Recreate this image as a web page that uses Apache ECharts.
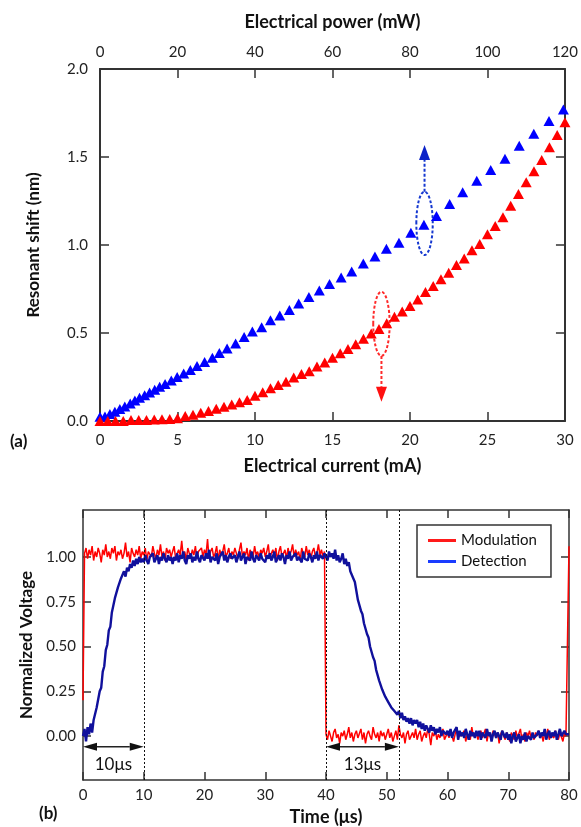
<!DOCTYPE html>
<html>
<head>
<meta charset="utf-8">
<script src="https://cdn.jsdelivr.net/npm/echarts@6/dist/echarts.min.js"></script>
<style>
html, body { margin: 0; padding: 0; background: #fff; }
#chart { width: 581px; height: 827px; }
</style>
</head>
<body>
<div id="chart"></div>
<script>
// ---- (a) resonant shift versus heater current ----
const blueCurrent = [0, 0.32, 0.64, 0.96, 1.28, 1.6, 1.95, 2.25, 2.55, 2.88,
  3.2, 3.53, 3.85, 4.2, 4.6, 4.98, 5.4, 5.83, 6.26, 6.75,
  7.25, 7.7, 8.2, 8.75, 9.3, 9.83, 10.43, 11.0, 11.6, 12.22,
  12.82, 13.48, 14.15, 14.81, 15.56, 16.24, 16.99, 17.74, 18.48, 19.29,
  20.06, 20.9, 21.71, 22.56, 23.4, 24.31, 25.21, 26.13, 27.05, 27.99,
  28.97, 29.9];
const blueShift = [0.024, 0.026, 0.04, 0.053, 0.068, 0.083, 0.1, 0.117, 0.132, 0.147,
  0.162, 0.177, 0.194, 0.21, 0.23, 0.25, 0.27, 0.29, 0.313, 0.335,
  0.36, 0.386, 0.412, 0.44, 0.477, 0.508, 0.532, 0.572, 0.6, 0.63,
  0.668, 0.705, 0.742, 0.778, 0.815, 0.85, 0.895, 0.934, 0.978, 1.013,
  1.07, 1.115, 1.165, 1.233, 1.3, 1.365, 1.426, 1.49, 1.564, 1.632,
  1.705, 1.77];
const redCurrent = [0, 0.5, 1, 1.5, 2, 2.5, 3, 3.5, 4, 4.5,
  5, 5.5, 6, 6.5, 7, 7.5, 8, 8.5, 9, 9.5,
  10, 10.5, 11, 11.5, 12, 12.5, 13, 13.5, 14, 14.5,
  15, 15.5, 16, 16.5, 17, 17.5, 18, 18.5, 19, 19.5,
  20, 20.5, 21, 21.5, 22, 22.5, 23, 23.5, 24, 24.5,
  25, 25.5, 26, 26.5, 27, 27.5, 28, 28.5, 29, 29.5, 30];
const redShift = [0, 0, 0, 0, 0.005, 0.005, 0.006, 0.008, 0.01, 0.012,
  0.016, 0.028, 0.036, 0.047, 0.057, 0.069, 0.081, 0.094, 0.106, 0.12,
  0.144, 0.163, 0.186, 0.205, 0.223, 0.247, 0.267, 0.283, 0.309, 0.333,
  0.36, 0.385, 0.409, 0.436, 0.468, 0.497, 0.523, 0.555, 0.592, 0.622,
  0.653, 0.69, 0.733, 0.767, 0.805, 0.843, 0.886, 0.924, 0.97, 1.006,
  1.061, 1.108, 1.157, 1.223, 1.29, 1.356, 1.419, 1.483, 1.555, 1.625, 1.697];

// dashed loops that tie each curve to its axis (centre, radii, arrow tip)
const loops = [
  { cx: 20.94, cy: 1.123, rx: 0.53, ry: 0.18, tip: 1.568, color: '#1538d0', head: '#0b22c8' },
  { cx: 18.16, cy: 0.552, rx: 0.53, ry: 0.182, tip: 0.11, color: '#ff2a2a', head: '#ff1010' }
];

// ---- (b) modulation and detector traces, one sample every 0.25 µs ----
const sampleStepUs = 0.25;
const modulation = [
  0.20,1.02,1.05,0.99,1.04,1.01,1.06,0.98,1.03,1.00,1.05,1.02,0.97,1.04,1.01,1.07,1.00,1.03,0.99,1.05,
  1.02,1.06,0.98,1.03,1.01,1.04,0.99,1.02,1.08,1.00,1.03,0.97,1.05,1.02,1.00,1.04,1.01,1.06,0.99,1.03,
  1.01,1.05,0.98,1.03,1.04,1.00,1.06,1.02,0.99,1.04,1.01,1.07,1.00,1.03,0.98,1.05,1.02,1.04,1.00,1.03,
  1.06,0.99,1.02,1.04,1.01,1.09,1.00,1.03,0.98,1.05,1.02,1.00,1.04,1.01,1.06,0.99,1.03,1.02,1.05,1.00,
  1.04,1.01,1.10,0.99,1.03,1.05,1.00,1.02,1.06,0.98,1.04,1.01,1.03,1.07,1.00,1.02,1.05,0.99,1.03,1.01,
  1.05,1.02,0.99,1.04,1.08,1.00,1.03,1.01,1.05,0.98,1.04,1.02,1.00,1.06,1.01,1.03,0.99,1.04,1.02,1.05,
  1.00,1.03,1.07,0.99,1.02,1.04,1.01,1.05,0.98,1.03,1.06,1.00,1.02,1.04,0.99,1.05,1.01,1.03,1.07,1.00,
  1.04,1.01,1.03,0.98,1.05,1.02,1.00,1.06,1.01,1.04,0.99,1.03,1.05,1.00,1.02,1.07,1.01,1.04,1.00,1.03,
  0.01,-0.02,0.03,0.00,-0.03,0.02,0.04,-0.01,0.01,-0.04,0.02,0.00,0.03,-0.02,0.01,0.05,-0.01,0.02,-0.03,0.01,
  0.03,-0.01,0.00,0.04,-0.02,0.02,-0.04,0.01,0.03,0.00,-0.02,0.05,0.01,-0.01,0.02,-0.03,0.03,0.00,0.02,-0.02,
  0.01,0.04,-0.01,0.02,-0.03,0.00,0.03,-0.02,0.06,0.01,-0.01,0.02,-0.04,0.01,0.03,-0.02,0.00,0.02,-0.01,0.04,
  -0.02,0.01,0.03,-0.03,0.00,0.02,-0.01,0.04,0.01,-0.05,0.02,0.00,0.03,-0.02,0.01,-0.01,0.02,0.04,-0.02,0.00,
  0.02,-0.01,0.03,0.00,-0.03,0.01,0.04,-0.02,0.02,0.00,-0.01,0.03,-0.03,0.01,0.02,-0.02,0.05,0.00,-0.01,0.02,
  -0.02,0.01,0.03,-0.01,0.00,0.04,-0.03,0.02,0.00,-0.02,0.03,0.01,-0.01,0.02,-0.04,0.01,0.03,0.00,-0.02,0.02,
  0.00,-0.03,0.02,0.01,-0.02,0.03,-0.01,0.00,0.04,-0.02,0.01,-0.03,0.02,0.00,0.03,-0.01,0.01,-0.02,0.02,0.00,
  0.03,-0.01,0.01,-0.03,0.02,0.00,0.04,-0.02,0.01,0.02,-0.01,0.03,0.00,-0.02,0.02,0.01,-0.03,0.02,0.00,0.01,
  1.06];
const detection = [
  0.00,0.04,-0.03,0.05,0.01,0.07,0.02,0.09,0.10,0.16,0.17,0.25,0.27,0.36,0.39,0.48,0.51,0.59,0.61,0.69,
  0.70,0.77,0.77,0.83,0.82,0.88,0.87,0.92,0.89,0.94,0.92,0.96,0.94,0.98,0.95,0.99,0.96,1.00,0.97,0.99,
  0.97,1.01,0.98,0.96,1.00,0.99,1.02,0.97,0.99,1.01,0.96,1.00,0.98,1.02,0.99,0.97,1.01,0.98,1.00,0.96,
  1.00,0.98,1.02,0.97,1.01,0.99,1.03,0.98,0.96,1.01,0.99,1.02,0.97,1.00,0.98,1.03,0.99,0.97,1.01,1.00,
  0.98,1.02,0.99,1.04,0.97,1.00,1.01,0.98,1.02,0.96,1.00,0.99,1.03,0.98,1.01,0.97,1.00,1.02,0.99,0.98,
  1.01,0.97,1.00,1.03,0.98,0.99,1.02,0.96,1.00,1.01,0.98,1.03,0.99,0.97,1.01,1.00,0.98,1.02,0.99,1.00,
  0.97,1.01,0.99,1.02,0.98,1.00,1.03,0.97,0.99,1.01,0.98,1.02,1.00,0.96,1.01,0.99,1.03,0.98,1.00,0.99,
  1.02,0.98,1.00,1.01,0.97,1.03,0.99,1.00,0.98,1.02,1.00,0.97,1.01,0.99,1.03,0.98,1.01,1.00,0.99,1.02,
  1.01,0.98,1.03,1.00,1.02,0.99,1.04,0.98,1.01,0.97,0.99,1.02,0.96,0.99,0.95,0.97,0.92,0.93,0.88,0.86,
  0.81,0.76,0.75,0.70,0.68,0.63,0.62,0.57,0.55,0.50,0.49,0.44,0.42,0.37,0.36,0.31,0.30,0.26,0.26,0.22,
  0.22,0.19,0.19,0.16,0.17,0.14,0.15,0.12,0.14,0.10,0.13,0.09,0.11,0.08,0.10,0.07,0.10,0.06,0.09,0.07,
  0.09,0.05,0.08,0.04,0.07,0.03,0.06,0.05,0.02,0.06,0.03,0.05,0.01,0.04,0.02,0.05,0.00,0.03,0.04,0.01,
  0.03,0.00,0.04,-0.01,0.02,0.01,0.05,-0.02,0.03,0.00,0.02,-0.01,0.04,0.01,-0.02,0.03,0.00,0.02,-0.01,0.03,
  0.00,0.03,-0.02,0.02,0.01,-0.01,0.04,0.00,0.02,-0.03,0.01,0.03,-0.01,0.02,0.00,-0.02,0.03,0.01,-0.01,0.02,
  -0.02,0.01,-0.04,0.00,0.02,-0.03,-0.01,0.01,-0.04,0.00,-0.02,0.02,-0.03,0.00,0.01,-0.02,0.02,-0.01,0.00,0.01,
  0.03,-0.01,0.02,0.00,0.04,-0.02,0.01,0.03,-0.01,0.02,0.00,0.03,-0.02,0.01,0.04,0.00,-0.01,0.03,0.01,0.02,
  0.01];

// timing markers: edges and the measured rise / fall spans
const edgeTimes = [10, 40, 52];
const spans = [
  { from: 0, to: 10, y: -0.06, text: '10\u03bcs' },
  { from: 40, to: 52, y: -0.06, text: '13\u03bcs' }
];
const voltageTicks = [0, 0.25, 0.5, 0.75, 1.0];

const FONT = 'Lato, "Liberation Sans", sans-serif';
const AXIS_COLOR = '#333';
const TEXT_COLOR = '#222';

const chart = echarts.init(document.getElementById('chart'), null, { renderer: 'canvas' });

function pairs(xs, ys) { return xs.map((x, i) => [x, ys[i]]); }
function trace(values) { return values.map((v, i) => [i * sampleStepUs, v]); }

function label(extra) {
  return Object.assign({ color: TEXT_COLOR, fontFamily: FONT, fontSize: 15 }, extra);
}

function frameAxis(extra) {
  return Object.assign({
    type: 'value',
    axisLine: { show: true, onZero: false, lineStyle: { color: AXIS_COLOR, width: 2 } },
    axisTick: { show: true, inside: true, length: 9, lineStyle: { color: AXIS_COLOR, width: 1.5 } },
    axisLabel: label({}),
    splitLine: { show: false },
    nameTextStyle: { color: '#111', fontFamily: FONT, fontSize: 18, fontWeight: 'bold' }
  }, extra);
}

const thinLine = { show: true, onZero: false, lineStyle: { color: AXIS_COLOR, width: 1.5 } };
const thinTick = { show: true, inside: true, length: 8, lineStyle: { color: AXIS_COLOR, width: 1.5 } };

function renderLoop(params, api) {
  const m = loops[params.dataIndex];
  const c = api.coord([m.cx, m.cy]);
  const ex = api.coord([m.cx + m.rx, m.cy]);
  const ey = api.coord([m.cx, m.cy + m.ry]);
  const rx = Math.abs(ex[0] - c[0]);
  const ry = Math.abs(c[1] - ey[1]);
  const tip = api.coord([m.cx, m.tip]);
  const dir = tip[1] < c[1] ? -1 : 1;
  const start = c[1] + dir * ry;
  const base = tip[1] - dir * 15;
  const dash = { stroke: m.color, lineWidth: 2, lineDash: [3, 2], fill: null };
  return {
    type: 'group',
    children: [
      { type: 'ellipse', shape: { cx: c[0], cy: c[1], rx: rx, ry: ry }, style: dash },
      { type: 'line', shape: { x1: c[0], y1: start, x2: c[0], y2: base }, style: dash },
      { type: 'polygon', shape: { points: [[c[0], tip[1]], [c[0] - 5.5, base], [c[0] + 5.5, base]] },
        style: { fill: m.head } }
    ]
  };
}

function renderSpan(params, api) {
  const s = spans[params.dataIndex];
  const a = api.coord([s.from, s.y]);
  const b = api.coord([s.to, s.y]);
  const y = a[1];
  const hl = 14, hw = 4;
  return {
    type: 'group',
    children: [
      { type: 'line', shape: { x1: a[0] + hl, y1: y, x2: b[0] - hl, y2: y },
        style: { stroke: '#222', lineWidth: 1.5 } },
      { type: 'polygon', shape: { points: [[a[0], y], [a[0] + hl, y - hw], [a[0] + hl, y + hw]] },
        style: { fill: '#111' } },
      { type: 'polygon', shape: { points: [[b[0], y], [b[0] - hl, y - hw], [b[0] - hl, y + hw]] },
        style: { fill: '#111' } },
      { type: 'text', x: (a[0] + b[0]) / 2, y: y + 18,
        style: { text: s.text, fill: '#111', fontFamily: FONT, fontSize: 17,
          align: 'center', verticalAlign: 'middle' } }
    ]
  };
}

const option = {
  animation: false,
  backgroundColor: '#fff',
  grid: [
    { left: 100, right: 13, top: 69, height: 352 },
    { left: 83, right: 12, top: 510, height: 271 }
  ],
  xAxis: [
    frameAxis({ gridIndex: 0, position: 'bottom', min: 0, max: 30, interval: 5,
      name: 'Electrical current (mA)', nameLocation: 'middle', nameGap: 36,
      axisLabel: label({ margin: 12 }) }),
    frameAxis({ gridIndex: 0, position: 'top', min: 0, max: 120, interval: 20,
      name: 'Electrical power (mW)', nameLocation: 'middle', nameGap: 38,
      axisLabel: label({ margin: 9 }) }),
    frameAxis({ gridIndex: 1, position: 'bottom', min: 0, max: 80, interval: 10,
      name: 'Time (\u03bcs)', nameLocation: 'middle', nameGap: 28,
      axisLine: thinLine, axisTick: thinTick,
      axisLabel: label({ margin: 8 }) }),
    frameAxis({ gridIndex: 1, position: 'top', min: 0, max: 80, interval: 10,
      axisLine: thinLine, axisTick: thinTick,
      axisLabel: { show: false } })
  ],
  yAxis: [
    frameAxis({ gridIndex: 0, position: 'left', min: 0, max: 2, interval: 0.5,
      name: 'Resonant shift (nm)', nameLocation: 'middle', nameGap: 58,
      nameTextStyle: { color: '#111', fontFamily: FONT, fontSize: 17, fontWeight: 'bold' },
      axisLabel: label({ margin: 12, formatter: v => v.toFixed(1) }) }),
    frameAxis({ gridIndex: 0, position: 'right', min: 0, max: 2, interval: 0.5,
      axisLabel: { show: false } }),
    frameAxis({ gridIndex: 1, position: 'left', min: -0.245, max: 1.262,
      name: 'Normalized Voltage', nameLocation: 'middle', nameGap: 47,
      nameTextStyle: { color: '#111', fontFamily: FONT, fontSize: 17, fontWeight: 'bold' },
      axisLine: thinLine,
      axisTick: Object.assign({ customValues: voltageTicks }, thinTick),
      axisLabel: label({ margin: 7, customValues: voltageTicks, formatter: v => v.toFixed(2) }) }),
    frameAxis({ gridIndex: 1, position: 'right', min: -0.245, max: 1.262,
      axisLine: thinLine,
      axisTick: Object.assign({ customValues: voltageTicks }, thinTick),
      axisLabel: { show: false, customValues: voltageTicks } })
  ],
  legend: {
    left: 417, top: 525,
    orient: 'vertical',
    padding: [8, 14, 8, 11],
    itemGap: 6,
    icon: 'rect',
    itemWidth: 28, itemHeight: 3,
    borderColor: '#333', borderWidth: 1.5, borderRadius: 0,
    backgroundColor: '#fff',
    textStyle: { color: '#111', fontFamily: FONT, fontSize: 15 },
    data: [
      { name: 'Modulation', itemStyle: { color: '#ff1a1a' } },
      { name: 'Detection', itemStyle: { color: '#1a3cff' } }
    ]
  },
  graphic: [
    { type: 'text', left: 10, top: 433,
      style: { text: '(a)', fill: '#111', font: 'bold 17px Lato, sans-serif' } },
    { type: 'text', left: 39, top: 805,
      style: { text: '(b)', fill: '#111', font: 'bold 17px Lato, sans-serif' } }
  ],
  series: [
    {
      type: 'custom', name: 'loops', xAxisIndex: 0, yAxisIndex: 0, z: 1,
      renderItem: renderLoop, data: loops.map(m => [m.cx, m.cy]), silent: true
    },
    {
      type: 'scatter', name: 'blue', xAxisIndex: 0, yAxisIndex: 0, z: 3,
      symbol: 'triangle', symbolSize: [11, 10],
      itemStyle: { color: '#0000ff', opacity: 1 },
      data: pairs(blueCurrent, blueShift)
    },
    {
      type: 'scatter', name: 'red', xAxisIndex: 0, yAxisIndex: 0, z: 3,
      symbol: 'triangle', symbolSize: [11, 10],
      itemStyle: { color: '#ff0000', opacity: 1 },
      data: pairs(redCurrent, redShift)
    },
    {
      type: 'line', name: 'Modulation', xAxisIndex: 2, yAxisIndex: 2,
      showSymbol: false, symbol: 'none',
      lineStyle: { color: '#ff0000', width: 1.5 }, itemStyle: { color: '#ff0000' },
      data: trace(modulation),
      markLine: {
        silent: true, symbol: 'none', animation: false,
        label: { show: false },
        lineStyle: { color: '#111', width: 1, type: [2, 2] },
        data: edgeTimes.map(t => ({ xAxis: t }))
      }
    },
    {
      type: 'line', name: 'Detection', xAxisIndex: 2, yAxisIndex: 2,
      showSymbol: false, symbol: 'none',
      lineStyle: { color: '#10109c', width: 2.4 }, itemStyle: { color: '#10109c' },
      data: trace(detection)
    },
    {
      type: 'custom', name: 'spans', xAxisIndex: 2, yAxisIndex: 2, z: 4,
      renderItem: renderSpan, data: spans.map(s => [s.from, s.y]), silent: true
    }
  ]
};

chart.setOption(option);
</script>
</body>
</html>
